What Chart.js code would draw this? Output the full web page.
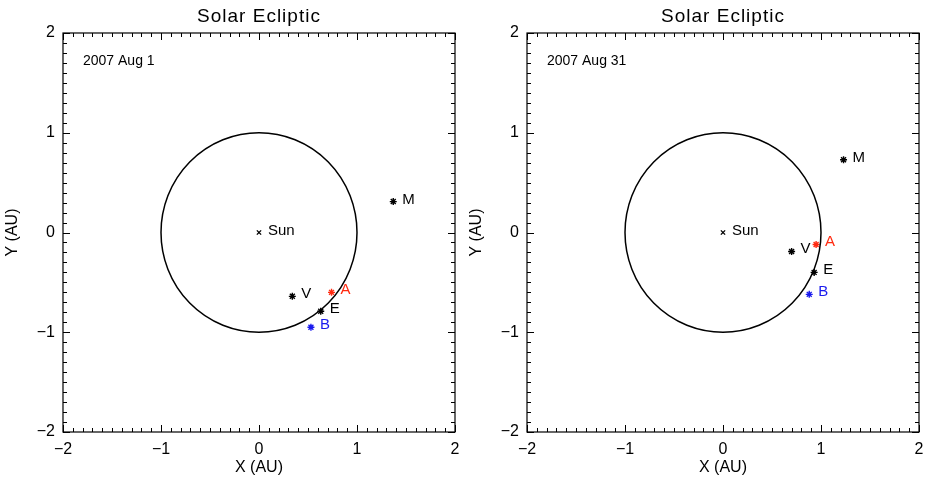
<!DOCTYPE html>
<html>
<head>
<meta charset="utf-8">
<script src="https://cdn.jsdelivr.net/npm/chart.js@4.4.1/dist/chart.umd.min.js"></script>
<style>
  body { margin: 0; background: #fff; width: 928px; height: 481px; overflow: hidden; position: relative; }
  .panel { position: absolute; top: 0; width: 464px; height: 481px; }
</style>
</head>
<body>
<div class="panel" style="left:0"><canvas id="grafica1" width="464" height="481"></canvas></div>
<div class="panel" style="left:464px"><canvas id="grafica2" width="464" height="481"></canvas></div>
<script>
// cuerpos y posiciones (AU)
var cuerpos = ['Sun', 'V', 'A', 'E', 'B', 'M'];
var colores = ['#000', '#000', '#ff2a10', '#000', '#1a1aee', '#000'];
var estilos = ['crossRot', 'star', 'star', 'star', 'star', 'star'];

var fecha1 = '2007 Aug 1';
var x1 = [0, 0.34, 0.74, 0.63, 0.53, 1.37];
var y1 = [0, -0.64, -0.60, -0.79, -0.95, 0.31];

var fecha2 = '2007 Aug 31';
var x2 = [0, 0.70, 0.95, 0.93, 0.88, 1.23];
var y2 = [0, -0.19, -0.12, -0.40, -0.62, 0.73];

var radioOrbita = 1;      // orbita de la Tierra
var limites = [-2, 2];
var paso = 0.1;

var fuente = "'Liberation Sans', 'DejaVu Sans', sans-serif";

function esEntero(v) {
  return Math.abs(v - Math.round(v)) < 1e-6;
}

function etiqueta(v) {
  if (!esEntero(v)) return '';
  var n = Math.round(v);
  return n < 0 ? '\u2212' + Math.abs(n) : '' + n;
}

// titulo, marco, ticks hacia dentro, orbita y nombres
var decorado = {
  id: 'decorado',
  afterDatasetsDraw: function(chart) {
    var ctx = chart.ctx, a = chart.chartArea;
    var sx = chart.scales.x, sy = chart.scales.y;
    ctx.save();

    // orbita
    var cx = sx.getPixelForValue(0), cy = sy.getPixelForValue(0);
    var rx = sx.getPixelForValue(radioOrbita) - cx;
    var ry = cy - sy.getPixelForValue(radioOrbita);
    ctx.strokeStyle = '#000';
    ctx.lineWidth = 1.5;
    ctx.beginPath();
    ctx.ellipse(cx, cy, rx, ry, 0, 0, Math.PI * 2);
    ctx.stroke();

    // nombres
    var meta = chart.getDatasetMeta(0);
    ctx.font = '15px ' + fuente;
    ctx.textBaseline = 'alphabetic';
    ctx.textAlign = 'left';
    meta.data.forEach(function(p, i) {
      ctx.fillStyle = colores[i];
      ctx.fillText(cuerpos[i], p.x + 9, p.y + 2);
    });

    // fecha
    ctx.fillStyle = '#000';
    ctx.font = '14px ' + fuente;
    ctx.textBaseline = 'middle';
    ctx.fillText(chart.options.plugins.fecha, a.left + 20, a.top + 28);

    // titulo
    ctx.font = '19px ' + fuente;
    ctx.textAlign = 'center';
    ctx.letterSpacing = '1px';
    ctx.fillText('Solar Ecliptic', (a.left + a.right) / 2, 17);
    ctx.letterSpacing = '0px';

    // marco
    ctx.lineWidth = 1.2;
    ctx.strokeRect(a.left, a.top, a.right - a.left, a.bottom - a.top);

    ctx.lineWidth = 1;
    ctx.beginPath();
    sx.ticks.forEach(function(t) {
      var px = Math.round(sx.getPixelForValue(t.value)) + 0.5;
      var len = esEntero(t.value) ? 7 : 4;
      ctx.moveTo(px, a.bottom); ctx.lineTo(px, a.bottom - len);
      ctx.moveTo(px, a.top); ctx.lineTo(px, a.top + len);
    });
    sy.ticks.forEach(function(t) {
      var py = Math.round(sy.getPixelForValue(t.value)) + 0.5;
      var len = esEntero(t.value) ? 7 : 4;
      ctx.moveTo(a.left, py); ctx.lineTo(a.left + len, py);
      ctx.moveTo(a.right, py); ctx.lineTo(a.right - len, py);
    });
    ctx.stroke();
    ctx.restore();
  }
};

function crearGrafico(id, fecha, xs, ys) {
  var puntos = xs.map(function(v, i) { return { x: v, y: ys[i] }; });
  return new Chart(document.getElementById(id).getContext('2d'), {
    type: 'scatter',
    data: {
      datasets: [{
        data: puntos,
        pointStyle: estilos,
        pointRadius: [3, 3.5, 3.5, 3.5, 3.5, 3.5],
        borderColor: colores,
        backgroundColor: colores,
        pointBorderWidth: 1.4,
        showLine: false
      }]
    },
    options: {
      responsive: false,
      devicePixelRatio: 1,
      animation: false,
      events: [],
      layout: { padding: { left: 0, right: 9, top: 33, bottom: 0 } },
      plugins: {
        legend: { display: false },
        tooltip: { enabled: false },
        title: { display: false },
        fecha: fecha
      },
      scales: {
        x: {
          type: 'linear',
          position: 'bottom',
          min: limites[0],
          max: limites[1],
          afterFit: function(s) { s.height = 49; s.paddingLeft = 0; s.paddingRight = 0; },
          grid: { display: false, drawTicks: false },
          border: { display: false },
          ticks: {
            stepSize: paso,
            autoSkip: false,
            maxRotation: 0,
            padding: 8,
            color: '#000',
            font: { family: fuente, size: 16 },
            callback: etiqueta
          },
          title: {
            display: true,
            text: 'X (AU)',
            color: '#000',
            font: { family: fuente, size: 16 },
            padding: { top: 0, bottom: 4 }
          }
        },
        y: {
          type: 'linear',
          position: 'left',
          min: limites[0],
          max: limites[1],
          afterFit: function(s) { s.width = 63; s.paddingTop = 0; s.paddingBottom = 0; },
          grid: { display: false, drawTicks: false },
          border: { display: false },
          ticks: {
            stepSize: paso,
            autoSkip: false,
            padding: 8,
            color: '#000',
            font: { family: fuente, size: 16 },
            callback: etiqueta
          },
          title: {
            display: true,
            text: 'Y (AU)',
            color: '#000',
            font: { family: fuente, size: 16 },
            padding: { top: 3, bottom: 0 }
          }
        }
      }
    },
    plugins: [decorado]
  });
}

crearGrafico('grafica1', fecha1, x1, y1);
crearGrafico('grafica2', fecha2, x2, y2);
</script>
</body>
</html>
